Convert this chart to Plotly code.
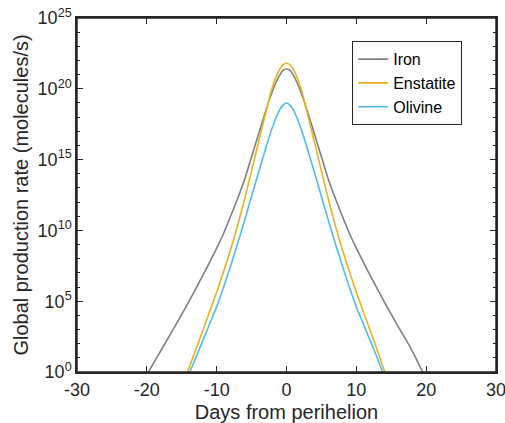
import plotly.graph_objects as go

# Days from perihelion and log10(global production rate)
iron_days = [-20.2, -19.7, -18, -16, -14, -12, -10, -9, -8, -7, -6, -5, -4, -3, -2, -1, -0.5, 0,
             0.5, 1, 2, 3, 4, 5, 6, 7, 8, 9, 10, 12, 14, 16, 18, 19.5, 20.0]
iron_log = [-0.4, 0.05, 1.5, 3.2, 4.95, 6.8, 8.75, 9.8, 11.0, 12.25, 13.6, 15.2, 16.8, 18.4, 19.85, 20.95, 21.3, 21.4,
            21.3, 20.95, 19.85, 18.4, 16.8, 15.2, 13.6, 12.25, 11.0, 9.8, 8.75, 6.8, 4.95, 3.2, 1.5, 0.0, -0.4]

enst_days = [-14.5, -14.1, -13, -12, -11, -10, -9, -8, -7, -6, -5, -4, -3, -2, -1, -0.5, 0,
             0.5, 1, 2, 3, 4, 5, 6, 7, 8, 9, 10, 11, 12, 13, 14.06, 14.5]
enst_log = [-0.5, 0.1, 1.55, 2.9, 4.25, 5.65, 7.1, 8.65, 10.35, 12.2, 14.2, 16.25, 18.25, 20.15, 21.35, 21.7, 21.8,
            21.7, 21.35, 20.15, 18.25, 16.25, 14.2, 12.2, 10.35, 8.65, 7.1, 5.65, 4.25, 2.9, 1.55, 0.0, -0.5]

oliv_days = [-14.2, -13.8, -13, -12, -11, -10, -9, -8, -7, -6, -5, -4, -3, -2, -1, -0.5, 0,
             0.5, 1, 2, 3, 4, 5, 6, 7, 8, 9, 10, 11, 12, 13, 13.75, 14.2]
oliv_log = [-0.45, 0.05, 1.0, 2.2, 3.4, 4.6, 6.0, 7.5, 9.05, 10.7, 12.4, 14.1, 15.75, 17.3, 18.5, 18.85, 19.0,
            18.85, 18.5, 17.3, 15.75, 14.1, 12.4, 10.7, 9.05, 7.5, 6.0, 4.6, 3.4, 2.2, 1.0, 0.0, -0.5]

series = [
    ("Iron", iron_days, iron_log, "#808080"),
    ("Enstatite", enst_days, enst_log, "#EDB120"),
    ("Olivine", oliv_days, oliv_log, "#4DBEEE"),
]

x_ticks = [-30, -20, -10, 0, 10, 20, 30]
y_exps = [0, 5, 10, 15, 20, 25]

fig = go.Figure()
for name, d, lg, col in series:
    fig.add_trace(go.Scatter(
        x=d, y=[10.0 ** v for v in lg], mode="lines", name=name,
        line=dict(color=col, width=1.6, shape="spline", smoothing=1.0),
    ))

axcol = "#262626"
font = "Liberation Sans, Arial, Helvetica, sans-serif"

W, H = 505, 423
L, R, T, B = 77, 9, 18, 51
pw = W - L - R
ph = H - T - B

fig.update_layout(
    width=W, height=H,
    margin=dict(l=L, r=R, t=T, b=B, autoexpand=False),
    paper_bgcolor="white", plot_bgcolor="white",
    font=dict(family=font, color="#262626", size=18),
    showlegend=True,
    legend=dict(
        x=(352 - L) / pw, y=(H - B - 41) / ph, xanchor="left", yanchor="top",
        bordercolor=axcol, borderwidth=1.2, bgcolor="white",
        font=dict(size=16, color="#000000"),
        tracegroupgap=0, itemwidth=30,
    ),
    shapes=[dict(type="rect", xref="paper", yref="paper", x0=0, x1=1, y0=0, y1=1,
                 line=dict(color=axcol, width=1.5), layer="above")],
)

fig.update_xaxes(
    range=[-30, 30], tickvals=x_ticks, ticktext=[str(t) for t in x_ticks],
    showgrid=False, zeroline=False, automargin=False,
    showline=True, linecolor=axcol, linewidth=1.5, mirror="ticks",
    ticks="inside", ticklen=6, tickwidth=1.2, tickcolor=axcol,
    ticklabelstandoff=1, ticklabeloverflow="allow",
    tickfont=dict(size=18, color="#262626"),
    title=dict(text="Days from perihelion", font=dict(size=20, color="#262626"), standoff=7),
)
fig.update_yaxes(
    type="log", range=[-1e-6, 25 + 1e-6], automargin=False,
    tickvals=[10.0 ** e for e in y_exps],
    ticktext=["10<sup>%d</sup>" % e for e in y_exps],
    minor=dict(tickvals=[10.0 ** e for e in range(0, 26)], ticks="inside",
               ticklen=3, tickwidth=1, tickcolor=axcol),
    showgrid=False, zeroline=False,
    showline=True, linecolor=axcol, linewidth=1.5, mirror="ticks",
    ticks="inside", ticklen=6, tickwidth=1.2, tickcolor=axcol,
    ticklabeloverflow="allow",
    tickfont=dict(size=18, color="#262626"),
    title=dict(text="Global production rate (molecules/s)", font=dict(size=20, color="#262626"), standoff=4),
)

fig.write_html("out.html", config={"displayModeBar": False},
               post_script="document.body.style.margin='0';")
